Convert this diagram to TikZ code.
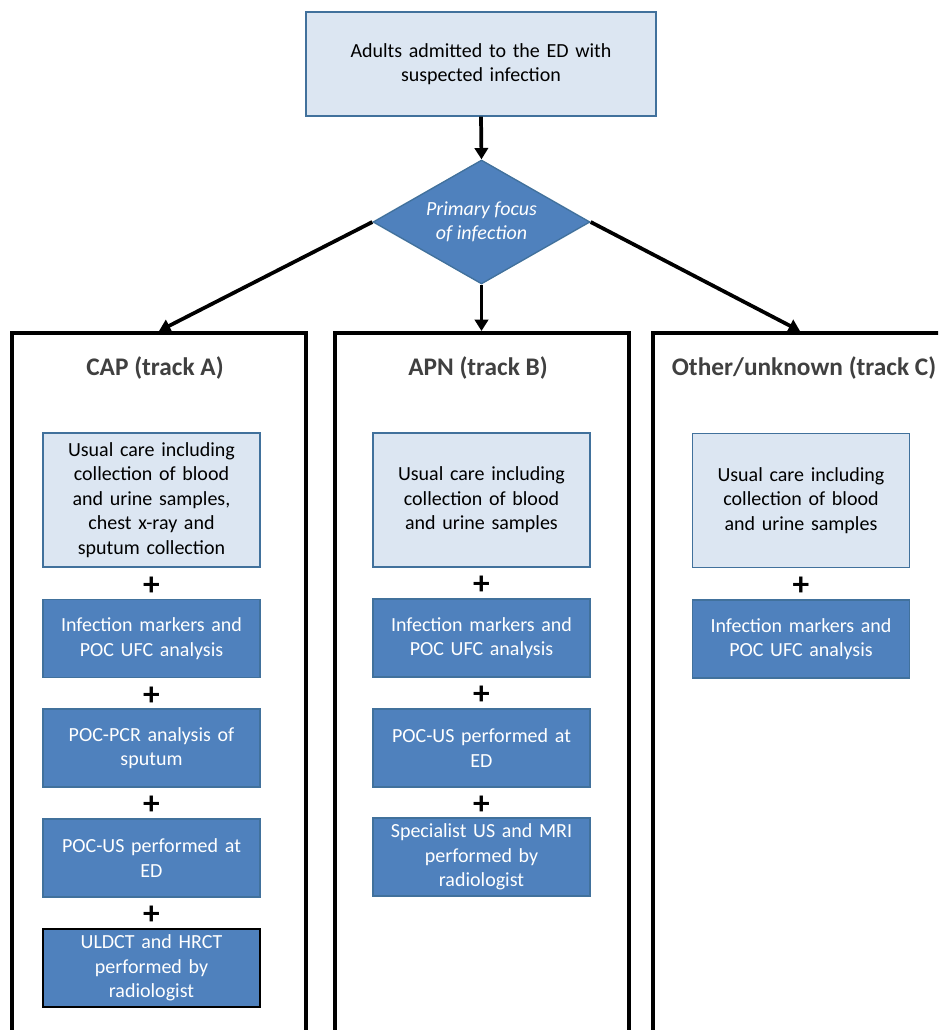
\documentclass[tikz,border=0pt]{standalone}
\usepackage{fontspec}
\setmainfont{Carlito}
\usetikzlibrary{arrows.meta,shapes.geometric,calc}

\definecolor{paleblue}{HTML}{DCE6F2}
\definecolor{midblue}{HTML}{4F81BD}
\definecolor{edgeblue}{HTML}{41719C}
\definecolor{titlegrey}{HTML}{404040}

\begin{document}
\begin{tikzpicture}[
    x=0.75pt, y=-0.75pt,
    >={Triangle[length=8.5pt, width=10pt]},
    flow/.style   = {->, line width=2.8pt},
    track/.style  = {draw, line width=3pt, anchor=north,
                     minimum width=220.5pt, minimum height=540pt},
    head/.style   = {font=\fontsize{19}{22}\selectfont\bfseries, text=titlegrey},
    usual/.style  = {draw=edgeblue, line width=1pt, fill=paleblue,
                     align=center, text width=156pt, minimum width=162.75pt,
                     inner sep=3pt, font=\fontsize{15}{18.4}\selectfont},
    extra/.style  = {usual, fill=midblue, text=white},
    tall/.style   = {minimum height=100.5pt},
    short/.style  = {minimum height=58.5pt},
    plus/.style   = {inner sep=0pt, yshift=-2pt, font=\fontsize{25}{25}\selectfont\bfseries}
]
\useasboundingbox (0,0) rectangle (938,1030);
\clip (0,0) rectangle (938,1030);

% Entry and decision
\node[usual, text width=255pt, minimum width=262.5pt, minimum height=78pt]
    (entry) at (481,64) {Adults admitted to the ED with\\ suspected infection};
\node[diamond, aspect=1.75, draw=edgeblue, line width=1pt, fill=midblue, text=white,
      minimum width=162.75pt, minimum height=93pt, inner sep=0pt,
      align=center, font=\fontsize{15}{18.4}\selectfont\itshape]
    (focus) at (481.5,222) {Primary focus\\ of infection};

% Tracks
\node[track] (trackA) at (159,331) {};
\node[track] (trackB) at (481.5,331) {};
\node[track] (trackC) at (800,331) {};
\node[head] (titleA) at (155,368) {CAP (track A)};
\node[head] (titleB) at (478,368) {APN (track B)};
\node[head] (titleC) at (804,368) {Other/unknown (track C)};

\draw[flow] (entry.south) -- (focus.north);
\draw[flow] (focus.west) -- (trackA.north);
\draw[flow] (focus.south) -- (trackB.north);
\draw[flow] (focus.east) -- (trackC.north);

% Track A
\node[usual, tall] (A1) at (151.5,500) {Usual care including\\ collection of blood\\ and urine samples,\\ chest x-ray and\\ sputum collection};
\node[extra, short] (A2) at (151.5,638.5) {Infection markers and\\ POC UFC analysis};
\node[extra, short] (A3) at (151.5,748) {POC-PCR analysis of\\ sputum};
\node[extra, short] (A4) at (151.5,858) {POC-US performed at\\ ED};
\node[extra, short, draw=black, line width=1.5pt] (A5) at (151.5,968)
    {ULDCT and HRCT\\ performed by\\ radiologist};

% Track B
\node[usual, tall] (B1) at (481.5,500) {Usual care including\\ collection of blood\\ and urine samples};
\node[extra, short] (B2) at (481.5,638) {Infection markers and\\ POC UFC analysis};
\node[extra, short] (B3) at (481.5,748) {POC-US performed at\\ ED};
\node[extra, short] (B4) at (481.5,857) {Specialist US and MRI\\ performed by\\ radiologist};

% Track C
\node[usual, tall] (C1) at (801,500.5) {Usual care including\\ collection of blood\\ and urine samples};
\node[extra, short] (C2) at (801,639) {Infection markers and\\ POC UFC analysis};

% Plus signs between stacked boxes
\foreach \u/\l in {A1/A2, A2/A3, A3/A4, A4/A5, B1/B2, B2/B3, B3/B4, C1/C2}
    \node[plus] (p\u) at ($(\u.south)!.5!(\l.north)$) {+};

\end{tikzpicture}
\end{document}
